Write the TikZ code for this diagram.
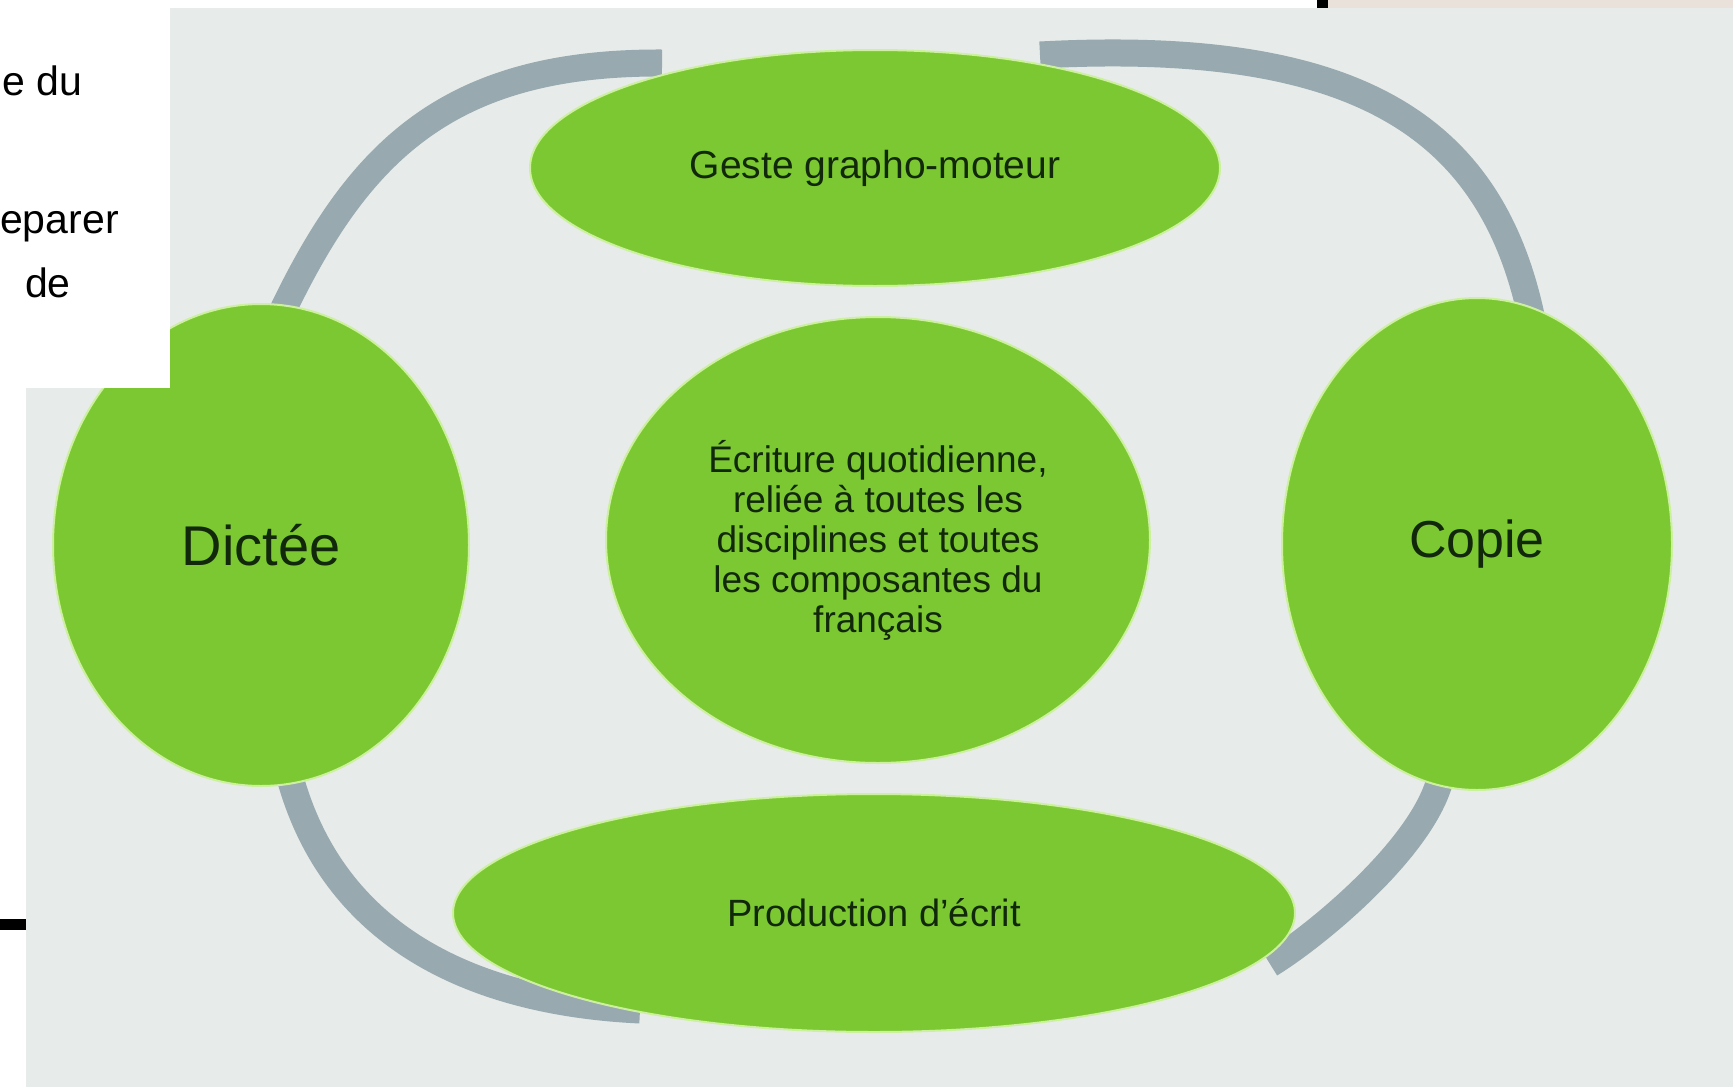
\documentclass[tikz,border=0pt]{standalone}
\usepackage{fontspec}
\setmainfont{Liberation Sans}
\usetikzlibrary{shapes.geometric}
\definecolor{bggrey}{RGB}{231,236,234}
\definecolor{ringgrey}{RGB}{152,169,175}
\definecolor{leaf}{RGB}{124,200,50}
\definecolor{leafedge}{RGB}{205,240,160}
\definecolor{ink}{RGB}{18,40,10}
\definecolor{beige}{RGB}{234,226,218}
\pgfdeclarelayer{bglayer}
\pgfdeclarelayer{ringlayer}
\pgfsetlayers{bglayer,ringlayer,main}
\begin{document}
\begin{tikzpicture}[x=1pt,y=-1pt,
  bubble/.style={ellipse, fill=leaf, draw=leafedge, line width=2pt, text=ink, align=center, inner sep=0pt},
  ring/.style={draw=ringgrey, line width=27pt},
  side/.style={font=\fontsize{41}{48}\selectfont, text=black, inner sep=0pt, anchor=base west}
]
\useasboundingbox (0,0) rectangle (1733,1087);
\begin{pgfonlayer}{bglayer}
\fill[white] (0,0) rectangle (1733,1087);
\fill[bggrey] (26,8) rectangle (1733,1087);
\fill[beige] (1328,0) rectangle (1733,8);
\fill[black] (1317,0) rectangle (1328,8);
\fill[black] (0,919) rectangle (26,930);
\end{pgfonlayer}

% nodes
\node[bubble, minimum width=416pt, minimum height=482pt, font=\fontsize{56}{60}\selectfont] (dictee) at (261,545) {Dictée};
\node[bubble, minimum width=390pt, minimum height=492pt, font=\fontsize{52}{60}\selectfont] (copie) at (1477,544) {Copie};
\node[bubble, minimum width=690pt, minimum height=236pt, font=\fontsize{39}{44}\selectfont] (geste) at (875,168) {Geste grapho-moteur};
\node[bubble, minimum width=544pt, minimum height=446pt, font=\fontsize{37}{40}\selectfont] (centre) at (878,540) {Écriture quotidienne,\\reliée à toutes les\\disciplines et toutes\\les composantes du\\français};
\node[bubble, minimum width=842pt, minimum height=238pt, font=\fontsize{38}{44}\selectfont] (prod) at (874,913) {Production d’écrit};

% ring end points and control points
\coordinate (a0) at (283,310); \coordinate (a1) at (360,150); \coordinate (a2) at (450,62); \coordinate (a3) at (662,63);
\coordinate (b0) at (1040,55); \coordinate (b1) at (1360,38); \coordinate (b2) at (1492,128); \coordinate (b3) at (1532,320);
\coordinate (c0) at (288,770); \coordinate (c1) at (330,935); \coordinate (c2) at (470,1002); \coordinate (c3) at (640,1010);
\coordinate (d0) at (1442,770); \coordinate (d1) at (1432,840); \coordinate (d2) at (1319,934); \coordinate (d3) at (1270,964);

\begin{pgfonlayer}{ringlayer}
\draw[ring] (a0) .. controls (a1) and (a2) .. (a3);
\draw[ring] (b0) .. controls (b1) and (b2) .. (b3);
\draw[ring] (c0) .. controls (c1) and (c2) .. (c3);
\draw[ring] (d0) .. controls (d1) and (d2) .. (d3);
\end{pgfonlayer}

% white box top-left
\fill[white] (0,0) rectangle (170,388);
\begin{scope}
\clip (0,0) rectangle (170,388);
\node[side] (t1) at (2,95) {e du};
\node[side] (t2) at (0,233) {eparer};
\node[side] (t3) at (25,297) {de};
\end{scope}
\end{tikzpicture}
\end{document}
